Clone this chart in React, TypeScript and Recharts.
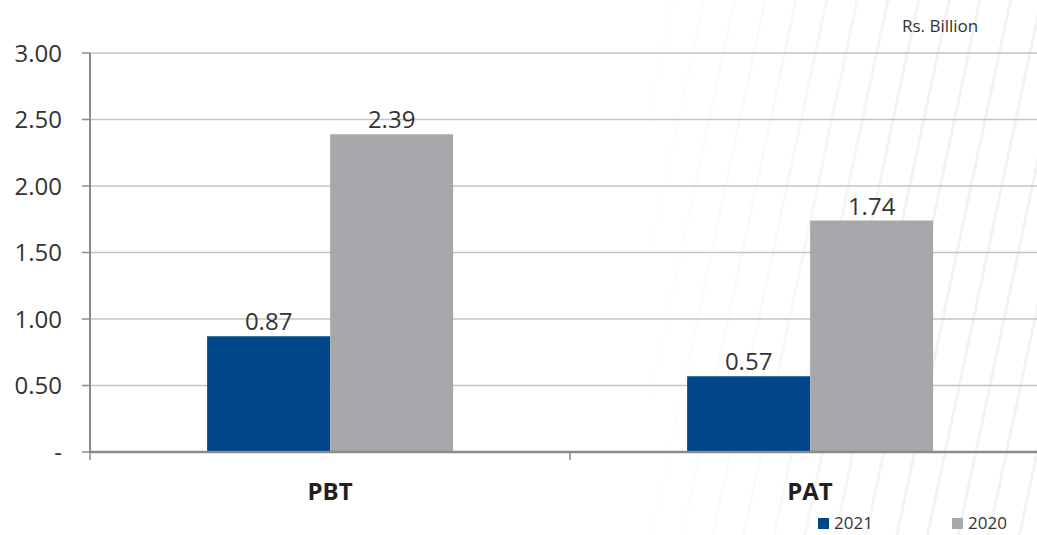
import { Bar, BarChart, CartesianGrid, LabelList, XAxis, YAxis } from "recharts"

// Profit before / after tax, Rs. Billion
const categories = ["PBT", "PAT"]
const values2021 = [0.87, 0.57]
const values2020 = [2.39, 1.74]
const yTicks = [0, 0.5, 1, 1.5, 2, 2.5, 3]
const seriesNames = ["2021", "2020"]

const BLUE = "#00478a"
const GREY = "#a7a8ab"
const AXIS = "#8a8a8a"
const FONT = "'Open Sans', 'Noto Sans', sans-serif"

const data = categories.map((name, i) => ({
  name,
  y2021: values2021[i],
  y2020: values2020[i],
}))

const CHART_W = 1100
const CHART_H = 535
const LEFT = 90
const RIGHT = 50
const BAND_HALF = (CHART_W - LEFT - RIGHT) / categories.length / 2

const fmt = (v: number) => (v === 0 ? "-" : v.toFixed(2))

// category label plus the divider tick at the left edge of each band
function CategoryTick(props: any) {
  const { x, y, payload } = props
  const edge = x - BAND_HALF
  return (
    <g>
      <line x1={edge} y1={y - 8} x2={edge} y2={y} stroke={AXIS} strokeWidth={1.5} />
      <text
        x={x}
        y={y + 40}
        textAnchor="middle"
        fontFamily={FONT}
        fontWeight={700}
        fontSize={24}
        fill="#231f20"
      >
        {payload.value}
      </text>
    </g>
  )
}

function ChartLegend() {
  const colors = [BLUE, GREY]
  return (
    <div
      style={{
        position: "absolute",
        left: 818,
        top: 514,
        display: "flex",
        fontFamily: FONT,
        fontSize: 17,
        color: "#333",
        lineHeight: "18px",
      }}
    >
      {seriesNames.map((label, i) => (
        <div key={label} style={{ display: "flex", alignItems: "center", width: 134 }}>
          <span style={{ width: 11, height: 11, background: colors[i], marginRight: 5 }} />
          {label}
        </div>
      ))}
    </div>
  )
}

export default function App() {
  return (
    <div
      style={{
        position: "fixed",
        left: 0,
        top: 0,
        width: 1037,
        height: CHART_H,
        overflow: "hidden",
        background:
          "linear-gradient(90deg, #fff 0px, #fff 640px, rgba(255,255,255,0) 900px), " +
          "repeating-linear-gradient(102deg, #fff 0px, #fff 27px, #f3f3f3 27px, #f3f3f3 30px)",
      }}
    >
      <div style={{ position: "absolute", left: 0, top: 0, width: CHART_W }}>
        <BarChart
          width={CHART_W}
          height={CHART_H}
          data={data}
          margin={{ top: 53, right: RIGHT, bottom: 23, left: 0 }}
          barCategoryGap="24.4%"
          barGap={0}
        >
          <CartesianGrid vertical={false} stroke="#c4c4c6" strokeWidth={1.5} />
          <YAxis
            width={LEFT}
            domain={[0, 3]}
            ticks={yTicks}
            tickFormatter={fmt}
            interval={0}
            axisLine={{ stroke: AXIS, strokeWidth: 2 }}
            tickLine={{ stroke: AXIS, strokeWidth: 1.5 }}
            tickSize={8}
            tickMargin={20}
            tick={{ fontFamily: FONT, fontSize: 24, fill: "#333" }}
          />
          <XAxis
            dataKey="name"
            height={60}
            axisLine={{ stroke: AXIS, strokeWidth: 2.5 }}
            tickLine={false}
            tick={<CategoryTick />}
            interval={0}
          />
          <Bar dataKey="y2021" name={seriesNames[0]} fill={BLUE} isAnimationActive={false}>
            <LabelList
              dataKey="y2021"
              position="top"
              offset={6}
              formatter={(v: number) => v.toFixed(2)}
              style={{ fontFamily: FONT, fontSize: 24, fill: "#333" }}
            />
          </Bar>
          <Bar dataKey="y2020" name={seriesNames[1]} fill={GREY} isAnimationActive={false}>
            <LabelList
              dataKey="y2020"
              position="top"
              offset={6}
              formatter={(v: number) => v.toFixed(2)}
              style={{ fontFamily: FONT, fontSize: 24, fill: "#333" }}
            />
          </Bar>
        </BarChart>
      </div>
      <div
        style={{
          position: "absolute",
          left: 902,
          top: 14,
          fontFamily: FONT,
          fontSize: 17,
          color: "#333",
        }}
      >
        Rs. Billion
      </div>
      <ChartLegend />
    </div>
  )
}
